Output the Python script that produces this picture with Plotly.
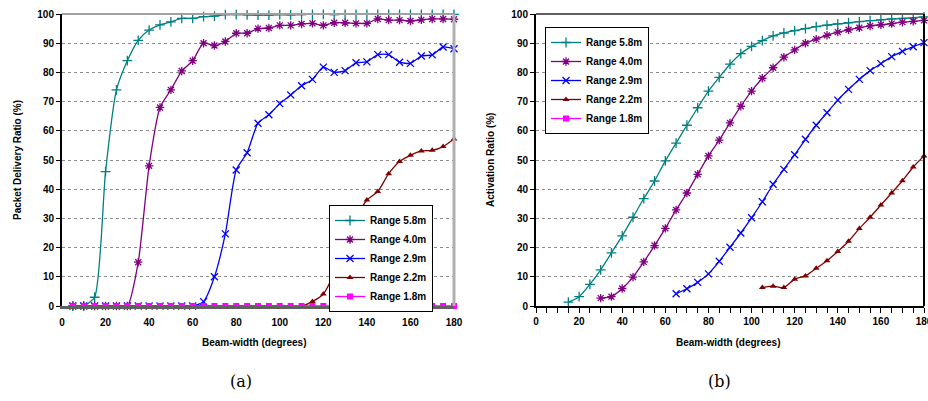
import plotly.graph_objects as go

# ---------------- data ----------------
beam_a = list(range(5, 185, 5))  # 5..180

pdr_58 = [0, 0, 3, 46, 74, 84, 91, 94.5, 96.3, 97.3, 98.5, 98.5, 99.1, 99.3, 99.8, 99.8,
          99.7, 99.6, 99.6, 99.8, 99.7, 99.8, 99.9, 99.9, 99.8, 99.9, 99.9, 99.9, 99.9,
          99.9, 99.9, 99.9, 99.9, 99.9, 99.9, 99.9]
pdr_40 = [0, 0, 0, 0, 0, 0, 15, 48, 68, 74, 80.5, 84, 90, 89.2, 90.6, 93.4, 93.4, 95, 95.2,
          96.1, 96.1, 96.6, 96.8, 96.1, 97, 97, 96.8, 96.8, 98.3, 97.9, 97.9, 97.6, 98, 98.3,
          98.3, 98.2]
pdr_29 = [0] * 12 + [1.5, 10, 24.7, 46.6, 52.5, 62.6, 65.5, 69.3, 72.3, 75.4, 77.6, 81.8, 80.0,
                     80.6, 83.3, 83.6, 86.1, 86.1, 83.5, 83.1, 85.6, 86.0, 88.7, 88.1]
pdr_22 = [0] * 22 + [1.5, 4.1, 11.2, 21, 30, 36.3, 39.2, 45.3, 49.5, 51.6, 53.1, 53.3, 54.6, 57.2]
pdr_18 = [0] * 36

beam_b58 = list(range(15, 185, 5))
act_58 = [1.3, 3.2, 7.4, 12.4, 18.2, 24, 30.4, 36.8, 42.8, 49.7, 55.8, 61.9, 67.9, 73.6, 78.3,
          82.8, 86.4, 88.9, 90.9, 92.5, 93.5, 94.3, 95, 95.7, 96.2, 96.6, 97.0, 97.4, 97.7, 98.0,
          98.3, 98.5, 98.7, 99.0]
beam_b40 = list(range(30, 185, 5))
act_40 = [2.7, 3.2, 6.0, 9.9, 15.1, 20.7, 26.6, 32.9, 38.7, 45.1, 51.4, 56.8, 62.7, 68.4, 73.6,
          78.0, 81.6, 85.2, 87.7, 90.0, 91.4, 92.7, 93.8, 94.6, 95.3, 95.9, 96.3, 96.7, 97.2,
          97.5, 97.8]
beam_b29 = list(range(65, 185, 5))
act_29 = [4.2, 5.9, 8.1, 11.0, 15.3, 20.1, 25.0, 30.2, 35.7, 41.7, 46.8, 51.8, 57.1, 61.9, 66.2,
          70.5, 74.2, 77.6, 80.6, 83.0, 85.4, 87.2, 88.8, 90.2]
beam_b22 = list(range(105, 185, 5))
act_22 = [6.3, 6.8, 6.3, 9.2, 10.3, 12.9, 15.5, 18.7, 22.2, 26.5, 30.4, 34.6, 38.7, 42.9, 47.6, 51.4]
beam_b18 = [None]   # no points in (b), legend entry only
act_18 = [None]

names = ["Range 5.8m", "Range 4.0m", "Range 2.9m", "Range 2.2m", "Range 1.8m"]
colors = ["#008080", "#800080", "#0000FF", "#800000", "#FF00FF"]
symbols = ["cross-thin-open", "asterisk-open", "x-thin-open", "triangle-up", "square"]
msizes = [7, 7, 7, 6, 6]

W, H = 928, 401
def fx(x):
    return x / W
def fy(y):
    return 1 - y / H

FONT = "Liberation Sans, Arial, sans-serif"

fig = go.Figure()

series_a = [(beam_a, pdr_58), (beam_a, pdr_40), (beam_a, pdr_29), (beam_a, pdr_22), (beam_a, pdr_18)]
series_b = [(beam_b58, act_58), (beam_b40, act_40), (beam_b29, act_29), (beam_b22, act_22), (beam_b18, act_18)]

for i, (x, y) in enumerate(series_a):
    open_ = symbols[i].endswith("open")
    fig.add_trace(go.Scatter(
        x=x, y=y, name=names[i], mode="lines+markers", xaxis="x", yaxis="y", legend="legend",
        line=dict(color=colors[i], width=1.3, shape="spline", smoothing=0.6),
        marker=dict(symbol=symbols[i], size=msizes[i], color=colors[i],
                    line=dict(color=colors[i], width=1.3 if open_ else 0)),
        cliponaxis=False))

for i, (x, y) in enumerate(series_b):
    open_ = symbols[i].endswith("open")
    fig.add_trace(go.Scatter(
        x=x, y=y, name=names[i], mode="lines+markers", xaxis="x2", yaxis="y2", legend="legend2",
        line=dict(color=colors[i], width=1.3, shape="spline", smoothing=0.6),
        marker=dict(symbol=symbols[i], size=msizes[i], color=colors[i],
                    line=dict(color=colors[i], width=1.3 if open_ else 0)),
        cliponaxis=False, showlegend=True))

tickfont = dict(family=FONT, size=10, color="black", weight="bold")
yd = [fy(306), fy(14)]

common_y = dict(range=[0, 100], dtick=10, showgrid=True, gridcolor="#8c8c8c", griddash="dot",
                gridwidth=1, showline=True, linecolor="black", linewidth=2, ticks="outside",
                ticklen=4, tickcolor="black", tickfont=tickfont, zeroline=False, domain=yd,
                fixedrange=True, automargin=False)

fig.update_layout(
    width=W, height=H, margin=dict(l=0, r=0, t=0, b=0, autoexpand=False),
    paper_bgcolor="white", plot_bgcolor="white",
    xaxis=dict(domain=[fx(62), fx(454)], range=[0, 180], tickvals=list(range(0, 181, 20)),
               showgrid=False, zeroline=False, showline=True, linecolor="#606060", linewidth=3,
               ticks="outside", ticklen=5, tickcolor="rgba(0,0,0,0)", tickfont=tickfont,
               anchor="y", automargin=False, ticklabeloverflow="allow"),
    yaxis=dict(anchor="x", **common_y),
    xaxis2=dict(domain=[fx(536), fx(924)], range=[0, 180], tickvals=list(range(0, 181, 20)),
                showgrid=False, zeroline=False, showline=True, linecolor="black", linewidth=2,
                ticks="outside", ticklen=5, tickcolor="black", tickfont=tickfont, anchor="y2",
                automargin=False, ticklabeloverflow="allow",
                minor=dict(dtick=5, ticks="outside", ticklen=5, tickcolor="black")),
    yaxis2=dict(anchor="x2", **common_y),
    legend=dict(x=fx(329), y=fy(205), xanchor="left", yanchor="top",
                bordercolor="black", borderwidth=1, bgcolor="white",
                font=dict(family=FONT, size=10, color="black", weight="bold"),
                tracegroupgap=0, itemwidth=30),
    legend2=dict(x=fx(545), y=fy(27), xanchor="left", yanchor="top",
                 bordercolor="black", borderwidth=1, bgcolor="white",
                 font=dict(family=FONT, size=10, color="black", weight="bold"),
                 tracegroupgap=0, itemwidth=30),
    showlegend=True,
)

# frame lines (top / right)
fig.add_shape(type="line", xref="paper", yref="paper", x0=fx(62), x1=fx(454), y0=yd[1], y1=yd[1],
              line=dict(color="#a0a0a0", width=2))
fig.add_shape(type="line", xref="paper", yref="paper", x0=fx(454), x1=fx(454), y0=yd[0], y1=yd[1],
              line=dict(color="#b0b0b0", width=3))
fig.add_shape(type="line", xref="paper", yref="paper", x0=fx(536), x1=fx(924), y0=yd[1], y1=yd[1],
              line=dict(color="#606060", width=2))
fig.add_shape(type="line", xref="paper", yref="paper", x0=fx(924), x1=fx(924), y0=yd[0], y1=yd[1],
              line=dict(color="black", width=2))

title_font = dict(family=FONT, size=10, color="black", weight="bold")
ann = [
    dict(text="Packet Delivery Ratio (%)", x=fx(17), y=fy(160), textangle=-90, font=title_font),
    dict(text="Activation Ratio (%)", x=fx(490), y=fy(160), textangle=-90, font=title_font),
    dict(text="Beam-width (degrees)", x=fx(254), y=fy(342), font=title_font),
    dict(text="Beam-width (degrees)", x=fx(728), y=fy(342), font=title_font),
    dict(text="(a)", x=fx(241), y=fy(381), font=dict(family="DejaVu Serif, serif", size=16, color="black")),
    dict(text="(b)", x=fx(719), y=fy(381), font=dict(family="DejaVu Serif, serif", size=16, color="black")),
]
for a in ann:
    fig.add_annotation(xref="paper", yref="paper", showarrow=False, xanchor="center",
                       yanchor="middle", **a)

# remove the default 8px page margin so the 928x401 figure fills the window exactly
fig.write_html("out.html", config={"displayModeBar": False},
               post_script="document.body.style.margin='0';document.body.style.overflow='hidden';")
